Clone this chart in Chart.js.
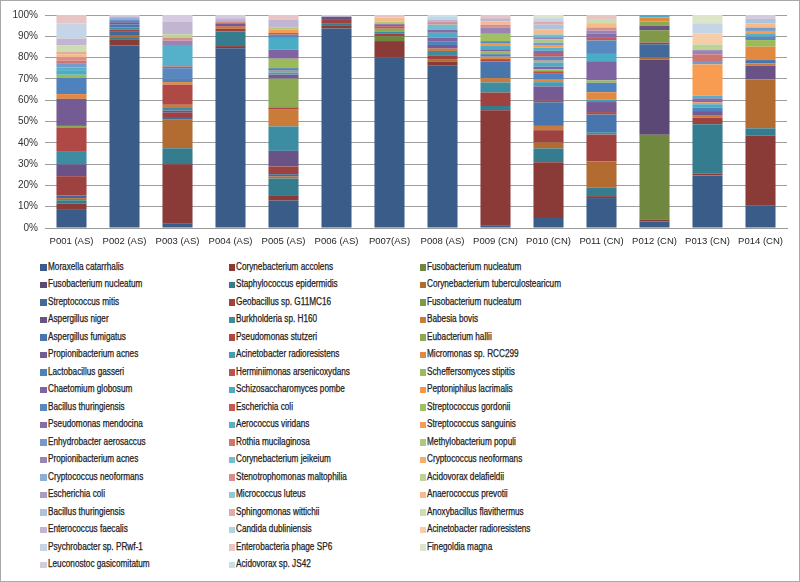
<!DOCTYPE html>
<html>
<head>
<meta charset="utf-8">
<script src="https://cdn.jsdelivr.net/npm/chart.js@4.4.1/dist/chart.umd.min.js"></script>
<style>
  html, body { margin: 0; padding: 0; background: #fff; }
  #frame { position: relative; width: 798px; height: 580px; border: 1px solid #a8a8a8; overflow: hidden; background: #fff; }
  #chartBox { position: absolute; left: -1px; top: -1px; width: 800px; height: 255px; }
  .lg { position: absolute; height: 12px; white-space: nowrap; }
  .lg .sw { position: absolute; top: 2.5px; width: 6.5px; height: 6.5px; }
  .lg .tx { position: absolute; top: -1px; font: 10px 'Liberation Sans', Arial, sans-serif; color: #222;
            -webkit-text-stroke: 0.25px #222;
            display: inline-block; transform: scaleX(0.82); transform-origin: left center; }
</style>
</head>
<body>
<div id="frame">
  <div id="chartBox"><canvas id="c"></canvas></div>
  <div id="legend"></div>
</div>
<script>
// ---------- DATA ----------
const categories = ['P001 (AS)','P002 (AS)','P003 (AS)','P004 (AS)','P005 (AS)','P006 (AS)','P007(AS)',
                    'P008 (AS)','P009 (CN)','P010 (CN)','P011 (CN)','P012 (CN)','P013 (CN)','P014 (CN)'];

const species = [
  'Moraxella catarrhalis','Corynebacterium accolens','Fusobacterium nucleatum',
  'Fusobacterium nucleatum','Staphylococcus epidermidis','Corynebacterium tuberculostearicum',
  'Streptococcus mitis','Geobacillus sp. G11MC16','Fusobacterium nucleatum',
  'Aspergillus niger','Burkholderia sp. H160','Babesia bovis',
  'Aspergillus fumigatus','Pseudomonas stutzeri','Eubacterium hallii',
  'Propionibacterium acnes','Acinetobacter radioresistens','Micromonas sp. RCC299',
  'Lactobacillus gasseri','Herminiimonas arsenicoxydans','Scheffersomyces stipitis',
  'Chaetomium globosum','Schizosaccharomyces pombe','Peptoniphilus lacrimalis',
  'Bacillus thuringiensis','Escherichia coli','Streptococcus gordonii',
  'Pseudomonas mendocina','Aerococcus viridans','Streptococcus sanguinis',
  'Enhydrobacter aerosaccus','Rothia mucilaginosa','Methylobacterium populi',
  'Propionibacterium acnes','Corynebacterium jeikeium','Cryptococcus neoformans',
  'Cryptococcus neoformans','Stenotrophomonas maltophilia','Acidovorax delafieldii',
  'Escherichia coli','Micrococcus luteus','Anaerococcus prevotii',
  'Bacillus thuringiensis','Sphingomonas wittichii','Anoxybacillus flavithermus',
  'Enterococcus faecalis','Candida dubliniensis','Acinetobacter radioresistens',
  'Psychrobacter sp. PRwf-1','Enterobacteria phage SP6','Finegoldia magna',
  'Leuconostoc gasicomitatum','Acidovorax sp. JS42'
];

// relative abundance (%) per sample, one value per species above (legend order)
const P001 = [8.8,2.6,0,0,1.5,1,  1.2,9,0,5.5,6.2,0,  0,11,0.7,12.6,0,2.2,  7.5,0,1.5,0,1.8,0,
              0,0,0,0,1.5,0,  1.8,1.5,0,0,0,0,  0,1.5,0,0,0,1.5,  0,1.2,3,3,0,0,  7,4,0,0,0];
const P002 = [85.6,3,0,0,1,1,  1.5,1,0,0,1,0,  1.5,0,0,1,0,0,  0,0,0,0,0,0,
              1,0,0,0,0,0,  0,0,0,0,0,0,  1,0,0,0,0,0,  0,0,0,0.8,0,0,  0,0,0,0.6,0];
const P003 = [2,27.7,0,0,7.5,13.6,  1,2,0,1,1.2,1.5,  0,9.4,0,0,0,1.2,  1.5,0,0,0,0,0,
              5,0.8,0,0,10,0,  0,0,0,2,0,0,  0,1.5,1.5,0,0,0,  0,0,0,6,0,0,  0,0,0,3,0];
const P004 = [84.4,1,0,0,6.9,0,  0,1.2,0,0,0,1,  0,0.8,0,0.8,0,0,  0,0,0,0,0,0,
              0,0,0,0,0,0,  0,0,0,0,0,0,  0,1,0,0,0,0,  0,0,0,1.4,0,0,  0,0,0,1.5,0];
const P005 = [12.8,2.5,0,0,7.8,1,  1,3.6,0,7.3,11.4,7.8,  0,1.1,13.4,1.9,1,0.8,  1.2,0,4.4,4.2,5.5,0,
              1.5,0.8,0,0,0,1.5,  0,0,1,0,0,0,  0,0,0,0,0,0,  0,0,0,3.6,0,0,  0,2.3,0,0,0];
const P006 = [93.4,1.5,0,0,1,0,  0,1.5,0,1.5,0,0,  0,0,0,0,0,0,  0,0,0,0,0,0,
              0,0,0,0,0,0,  0,0,0,0,0,0,  0,0,0,0,0,0,  0,0,0,0,0,0,  0,0,0,0.8,0];
const P007 = [79.7,7.8,2.3,0,0,0,  0,1.1,0,0,0.9,0,  0,0,1.5,0,0,0,  0,1.1,0,1,0,0,
              0,0,0,0,0,0,  0,0,1.2,0,0,0,  0,0,0,0,0,1.9,  0,0,0,0,0,0,  0,1.2,0,0,0];
const P008 = [75.8,2,0,0,0,1.1,  0,1.5,0,0,2.3,1.1,  0,0,0,1.7,0,0,  1.5,0,0,1.9,2.3,0,
              0,0,0,1.5,0,0,  0,0,0,0,2.3,0,  0,1.2,0,0,0,0,  0,0,0,1.2,0,0,  1.2,0,0,0,0.9];
const P009 = [1.1,53.9,0,0,2,0,  0,6.3,0,0,4.7,2,  7.8,1.1,0,0,0,1.1,  1.2,0,1.2,1.1,1.5,1.1,
              1.2,0,3.4,0,0,0,  0,0,0,2.8,0,0,  0,1.5,0,0,0,1.5,  0,0,0,1.5,0,0,  0,1.5,0,0,0];
const P010 = [4.7,26,0,0,6.4,2.7,  0,5.8,0,0,0,2,  11,0.8,0,6.6,2,1.1,  3.1,0.9,0.9,1.2,2,0.8,
              1.9,1.2,0,1.5,1.5,1.2,  1.1,0,1.5,1.1,1.2,0,  0,0,0,0,0,2.3,  2.3,1.5,0,0,0,0,  1.5,0,1.5,0,0];
const P011 = [14,0.9,0,0,4.1,12.2,  0,12.5,0,0,1.1,0,  8.3,1.1,0,4.7,1.2,3.4,  4.4,0,1.1,9,3.4,0,
              6.3,1.2,0,1.9,0,0,  0,0,0,1.5,0,0,  0,1.5,0,0,0,2,  0,0,1.5,0,0,0,  0,2.3,0,0,0];
const P012 = [3.1,0.8,39.8,35.2,0,0.8,  6.3,0.8,5.8,2,0,0,  0,0,2,0,0,1.9,  0,0,0,0,1.2,0,
              0,0,0,0,0,0,  0,0,0,0,0,0,  0,0,0,0,0,0,  0,0,0,0,0,0,  0,0,0,0,0];
const P013 = [24.7,0.9,0,0,23.1,0,  0,3.1,0,0,0,0.9,  0,0,0,2.2,0,0,  1.6,0,0,0,1.6,0.9,
              0,0,0,1.9,1.2,14.7,  1.6,3.1,0,2,0,0,  0,0,2.7,0,0,0,  0,0,0,0,0,5.2,  4.7,0,3.9,0,0];
const P014 = [10.5,33,0,0,3.4,23.1,  0,0,0,6.3,0,1.1,  1.6,0,0,0,0,6.3,  0,0,3.1,0,0,0,
              1.6,0,0,0,1.6,1.1,  1.6,0,0,0,0,0,  0,0,0,0,0,2,  2,0,0,0,0,0,  0,0,0,1.9,0];

const samples = [P001,P002,P003,P004,P005,P006,P007,P008,P009,P010,P011,P012,P013,P014];
const yTicks = ['0%','10%','20%','30%','40%','50%','60%','70%','80%','90%','100%'];

// ---------- COLOURS (Office palette, darker -> lighter per cycle) ----------
const accents = [[79,129,189],[192,80,77],[155,187,89],[128,100,162],[75,172,198],[247,150,70]];
const levels = [
  {m:0.72,w:0},{m:0.82,w:0},{m:0.91,w:0},{m:1,w:0},{m:1,w:0.06},
  {m:1,w:0.22},{m:1,w:0.38},{m:1,w:0.55},{m:1,w:0.70}
];
function colorFor(i){
  const b = accents[i % 6], L = levels[Math.floor(i / 6)];
  const c = b.map(v => Math.round(v * L.m * (1 - L.w) + 255 * L.w * 0.97));
  return 'rgb(' + c.join(',') + ')';
}

// 100% stacked: normalise each sample to its total (as the spreadsheet does)
const totals = samples.map(s => s.reduce((a, b) => a + b, 0));
const datasets = species.map((name, i) => ({
  label: name,
  data: samples.map((s, k) => s[i] / totals[k] * 100),
  backgroundColor: colorFor(i),
  borderWidth: 0,
  barPercentage: 0.567,
  categoryPercentage: 1.0
}));

Chart.defaults.font.family = "'Liberation Sans', Arial, sans-serif";
Chart.defaults.color = '#333';

new Chart(document.getElementById('c'), {
  type: 'bar',
  data: { labels: categories, datasets },
  options: {
    responsive: true,
    maintainAspectRatio: false,
    animation: false,
    layout: { padding: { left: 0, right: 13, top: 15, bottom: 0 } },
    plugins: { legend: { display: false }, tooltip: { enabled: false } },
    scales: {
      x: {
        stacked: true,
        grid: { display: false, drawTicks: false },
        border: { display: true, color: '#9a9a9a' },
        ticks: { autoSkip: false, maxRotation: 0, padding: 8, font: { size: 9.5 }, color: '#262626' },
        afterFit: s => { s.height = 27; }
      },
      y: {
        stacked: true,
        min: 0, max: 100,
        ticks: { stepSize: 10, padding: 7, font: { size: 10 }, color: '#333',
                 callback: (v) => yTicks[Math.round(v / 10)] },
        grid: { color: '#9e9e9e', lineWidth: 1, drawTicks: false },
        border: { display: false },
        afterFit: s => { s.width = 45; }
      }
    }
  }
});

// ---------- LEGEND (3 columns, row-wise order) ----------
const colSquare = [40, 228.5, 419.5];
const colText = [47.5, 236, 427];
const legend = document.getElementById('legend');
species.forEach((name, i) => {
  const row = Math.floor(i / 3), col = i % 3;
  const cy = 267.7 + row * 17.5 - 1;
  const d = document.createElement('div');
  d.className = 'lg';
  d.style.left = '0px';
  d.style.top = (cy - 6) + 'px';
  const sw = document.createElement('div');
  sw.className = 'sw';
  sw.style.left = (colSquare[col] - 1) + 'px';
  sw.style.background = colorFor(i);
  const tx = document.createElement('span');
  tx.className = 'tx';
  tx.style.left = (colText[col] - 1) + 'px';
  tx.textContent = name;
  d.appendChild(sw); d.appendChild(tx);
  legend.appendChild(d);
});
</script>
</body>
</html>
